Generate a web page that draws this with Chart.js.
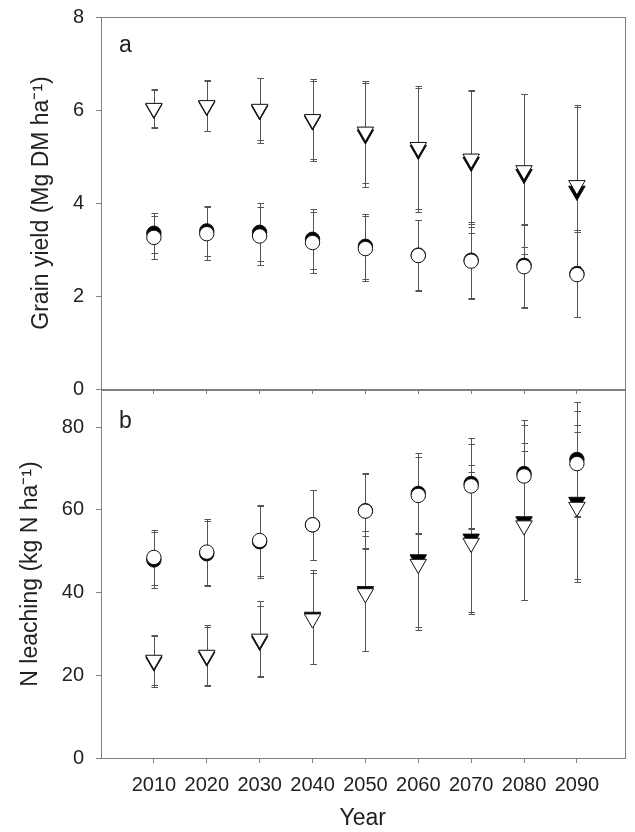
<!DOCTYPE html>
<html>
<head>
<meta charset="utf-8">
<title>Grain yield and N leaching</title>
<script src="https://cdn.jsdelivr.net/npm/chart.js@4.4.0/dist/chart.umd.min.js"></script>
<style>
    html, body { margin: 0; padding: 0; background: #fff; }
    #wrap { position: relative; width: 635px; height: 832px; }
    #wrap canvas { position: absolute; left: 0; top: 0; }
</style>
</head>
<body>
<div id="wrap">
    <canvas id="yieldChart" width="635" height="832"></canvas>
    <canvas id="leachChart" width="635" height="832"></canvas>
</div>
<script>
// ============================================
// DATA
// ============================================

const years = [2010, 2020, 2030, 2040, 2050, 2060, 2070, 2080, 2090];

// panel a - grain yield (Mg DM ha-1), means and error bars
const yieldCircleFilled   = [3.35, 3.40, 3.37, 3.22, 3.07, 2.88, 2.77, 2.66, 2.48];
const yieldCircleFilledSd = [0.43, 0.54, 0.62, 0.65, 0.70, 0.76, 0.83, 0.89, 0.93];
const yieldCircleOpen     = [3.26, 3.34, 3.29, 3.15, 3.02, 2.87, 2.75, 2.63, 2.46];
const yieldCircleOpenSd   = [0.47, 0.57, 0.62, 0.65, 0.70, 0.76, 0.80, 0.89, 0.92];
const yieldTriFilled      = [6.02, 6.08, 5.99, 5.77, 5.47, 5.14, 4.88, 4.62, 4.26];
const yieldTriFilledSd    = [0.40, 0.54, 0.69, 0.86, 1.12, 1.33, 1.53, 1.72, 1.80];
const yieldTriOpen        = [6.04, 6.10, 6.02, 5.80, 5.53, 5.20, 4.95, 4.70, 4.38];
const yieldTriOpenSd      = [0.41, 0.55, 0.67, 0.86, 1.10, 1.32, 1.47, 1.64, 1.73];

// panel b - N leaching (kg N ha-1)
const leachCircleFilled   = [47.9, 49.4, 52.3, 56.4, 59.8, 64.0, 66.4, 68.8, 72.2];
const leachCircleFilledSd = [6.8, 7.9, 8.7, 8.5, 9.0, 9.7, 10.9, 13.0, 13.8];
const leachCircleOpen     = [48.5, 49.8, 52.6, 56.4, 59.7, 63.5, 65.8, 68.2, 71.2];
const leachCircleOpenSd   = [6.7, 7.9, 8.5, 8.5, 9.2, 9.3, 10.2, 12.4, 12.7];
const leachTriFilled      = [23.3, 24.5, 28.3, 34.1, 40.3, 48.0, 53.0, 57.2, 61.9];
const leachTriFilledSd    = [6.1, 7.1, 8.5, 11.4, 14.5, 16.2, 17.8, 18.9, 18.6];
const leachTriOpen        = [23.7, 24.9, 28.8, 33.7, 39.8, 46.9, 52.0, 56.2, 60.7];
const leachTriOpenSd      = [6.0, 7.2, 9.2, 11.0, 14.0, 16.0, 17.2, 18.1, 18.1];

// axis ticks
const yieldTicks = [0, 2, 4, 6, 8];
const leachTicks = [0, 20, 40, 60, 80];

// ============================================
// STYLE
// ============================================

const FONT = "'Liberation Sans', Arial, sans-serif";
const TEXT = '#222';
const AXIS = '#808080';

Chart.defaults.font.family = FONT;
Chart.defaults.color = TEXT;

function makeSet(label, means, sds, shape, filled, order) {
    return {
        label: label,
        data: years.map((yr, i) => ({ x: yr, y: means[i] })),
        errors: sds,
        pointStyle: shape,
        rotation: shape === 'triangle' ? 180 : 0,
        pointRadius: shape === 'triangle' ? 9.5 : 7.2,
        backgroundColor: filled ? '#000' : '#fff',
        borderColor: '#111',
        borderWidth: 1,
        showLine: false,
        order: order,
    };
}

// error bars drawn behind the markers
const errorBars = {
    id: 'errorBars',
    beforeDatasetsDraw(chart) {
        const { ctx, scales: { x, y } } = chart;
        ctx.save();
        ctx.strokeStyle = '#555';
        ctx.lineWidth = 1;
        chart.data.datasets.forEach((ds) => {
            ds.data.forEach((p, i) => {
                const sd = ds.errors[i];
                const px = Math.round(x.getPixelForValue(p.x)) + 0.5;
                const top = Math.round(y.getPixelForValue(p.y + sd)) + 0.5;
                const bot = Math.round(y.getPixelForValue(p.y - sd)) + 0.5;
                ctx.beginPath();
                ctx.moveTo(px, top);
                ctx.lineTo(px, bot);
                ctx.moveTo(px - 3, top);
                ctx.lineTo(px + 3.5, top);
                ctx.moveTo(px - 3, bot);
                ctx.lineTo(px + 3.5, bot);
                ctx.stroke();
            });
        });
        ctx.restore();
    },
};

// box around the plot area and the panel letter
const frame = {
    id: 'frame',
    afterDraw(chart, args, opts) {
        const { ctx, chartArea: a } = chart;
        ctx.save();
        ctx.strokeStyle = AXIS;
        ctx.lineWidth = 1;
        ctx.strokeRect(Math.round(a.left) + 0.5, Math.round(a.top) + 0.5,
            Math.round(a.right - a.left), Math.round(a.bottom - a.top));
        ctx.fillStyle = TEXT;
        ctx.font = '23px ' + FONT;
        ctx.textBaseline = 'alphabetic';
        ctx.fillText(opts.text, a.left + 18, a.top + opts.dy);
        ctx.restore();
    },
};

function xScale(showLabels, height) {
    return {
        type: 'linear',
        min: 2000,
        max: 2099,
        afterBuildTicks: (s) => { s.ticks = years.map((v) => ({ value: v })); },
        afterFit: (s) => { s.height = height; s.paddingLeft = 0; s.paddingRight = 0; },
        ticks: {
            display: showLabels,
            padding: 10,
            color: TEXT,
            font: { size: 20 },
            callback: (value) => String(value),
        },
        grid: { drawOnChartArea: false, drawTicks: true, tickLength: 5, color: AXIS },
        border: { display: false },
        title: {
            display: showLabels,
            text: 'Year',
            color: TEXT,
            font: { size: 23 },
            padding: { top: 0, bottom: 0 },
        },
    };
}

function yScale(max, ticks, title, titleGap) {
    return {
        min: 0,
        max: max,
        afterBuildTicks: (s) => { s.ticks = ticks.map((v) => ({ value: v })); },
        // fixed width, and no extra room asked for the end labels
        afterFit: (s) => { s.width = 101; s.paddingTop = 0; s.paddingBottom = 0; },
        ticks: { padding: 12, color: TEXT, font: { size: 20 } },
        grid: { drawOnChartArea: false, drawTicks: true, tickLength: 5, color: AXIS },
        border: { display: false },
        title: {
            display: true,
            text: title,
            color: TEXT,
            font: { size: 23 },
            padding: { top: titleGap, bottom: 0 },
        },
    };
}

function baseOptions(padding, tag, dy) {
    return {
        responsive: false,
        animation: false,
        events: [],
        layout: { padding: padding },
        plugins: {
            legend: { display: false },
            tooltip: { enabled: false },
            frame: { text: tag, dy: dy },
        },
    };
}

// ============================================
// CHARTS
// ============================================

function initYieldChart() {
    const options = baseOptions({ top: 17, right: 6, bottom: 437, left: 0 }, 'a', 35);
    options.scales = {
        x: xScale(false, 6),
        y: yScale(8, yieldTicks, 'Grain yield (Mg DM ha\u207B\u00B9)', 28),
    };
    new Chart(document.getElementById('yieldChart'), {
        type: 'scatter',
        data: {
            datasets: [
                makeSet('Circle filled', yieldCircleFilled, yieldCircleFilledSd, 'circle', true, 2),
                makeSet('Triangle filled', yieldTriFilled, yieldTriFilledSd, 'triangle', true, 2),
                makeSet('Circle open', yieldCircleOpen, yieldCircleOpenSd, 'circle', false, 1),
                makeSet('Triangle open', yieldTriOpen, yieldTriOpenSd, 'triangle', false, 1),
            ],
        },
        options: options,
        plugins: [errorBars, frame],
    });
}

function initLeachChart() {
    const options = baseOptions({ top: 390, right: 6, bottom: 0, left: 0 }, 'b', 38);
    options.scales = {
        x: xScale(true, 74),
        y: yScale(89, leachTicks, 'N leaching (kg N ha\u207B\u00B9)', 17),
    };
    new Chart(document.getElementById('leachChart'), {
        type: 'scatter',
        data: {
            datasets: [
                makeSet('Circle filled', leachCircleFilled, leachCircleFilledSd, 'circle', true, 2),
                makeSet('Triangle filled', leachTriFilled, leachTriFilledSd, 'triangle', true, 2),
                makeSet('Circle open', leachCircleOpen, leachCircleOpenSd, 'circle', false, 1),
                makeSet('Triangle open', leachTriOpen, leachTriOpenSd, 'triangle', false, 1),
            ],
        },
        options: options,
        plugins: [errorBars, frame],
    });
}

initYieldChart();
initLeachChart();
</script>
</body>
</html>
